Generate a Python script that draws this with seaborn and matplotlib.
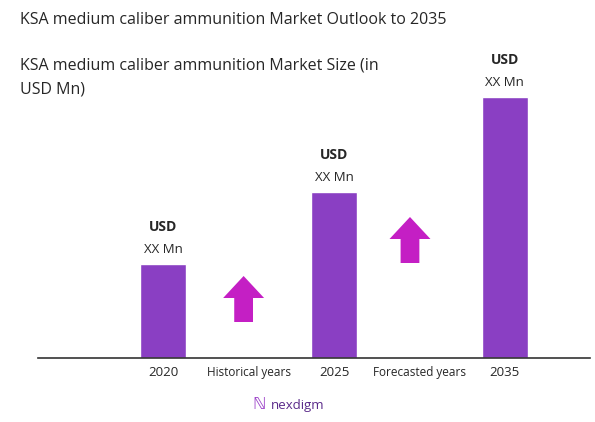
import matplotlib
matplotlib.use("Agg")
import matplotlib.pyplot as plt
import seaborn as sns
import pandas as pd
from matplotlib.patches import FancyArrow

categories = ["2020", "Historical years", "2025", "Forecasted years", "2035"]
values = [94, 0, 166, 0, 261]
bar_labels = ["USD\nXX Mn", "", "USD\nXX Mn", "", "USD\nXX Mn"]

sns.set_style("white")
plt.rcParams['font.family'] = ['Open Sans', 'DejaVu Sans']
fig = plt.figure(figsize=(5.95, 4.22), dpi=100)
H = 422
ax = fig.add_axes([38/595, (H-358)/H, (590-38)/595, 358/H - (H-358)/H])
df = pd.DataFrame({"cat": categories, "val": values})
sns.barplot(data=df, x="cat", y="val", order=categories, color="#8a3fc3",
            saturation=1, width=0.54, ax=ax)
ax.set_xlim(-1.47, 5.0)
ax.set_ylim(0, 294)
for s in ["top", "right", "left"]:
    ax.spines[s].set_visible(False)
ax.spines["bottom"].set_color("#333333")
ax.spines["bottom"].set_linewidth(1.2)
ax.set_yticks([])
ax.set_xlabel(""); ax.set_ylabel("")
ax.tick_params(axis="x", length=0, pad=6, labelsize=9.5)
for lab in ax.get_xticklabels():
    if "years" in lab.get_text():
        lab.set_fontsize(8.5)
for i, (v, t) in enumerate(zip(values, bar_labels)):
    if t:
        usd, mn = t.split("\n")
        ax.text(i, v + 30, usd, ha="center", va="bottom", fontsize=10, fontweight="bold")
        ax.text(i, v + 8, mn, ha="center", va="bottom", fontsize=9.5)
# arrows
for xc, y0 in [(1, 36), (2.95, 95)]:
    ax.add_patch(FancyArrow(xc - 0.06, y0, 0, 46, width=0.22, head_width=0.48,
                            head_length=22, length_includes_head=True,
                            color="#c41fc4", lw=0))
fig.text(20/595, 1 - 20/H, "KSA medium caliber ammunition Market Outlook to 2035",
         fontsize=11.5, va="center")
fig.text(20/595, 1 - 66/H, "KSA medium caliber ammunition Market Size (in",
         fontsize=11.5, va="center")
fig.text(20/595, 1 - 90/H, "USD Mn)", fontsize=11.5, va="center")
fig.text(0.5, 1 - 405/H, "nexdigm", fontsize=9.5, color="#5a2a8a", ha="center", va="center")
fig.text(0.435, 1 - 405/H, "ℕ", fontsize=12, color="#9a3fc8", ha="center", va="center")
fig.savefig("out.png", dpi=100)
